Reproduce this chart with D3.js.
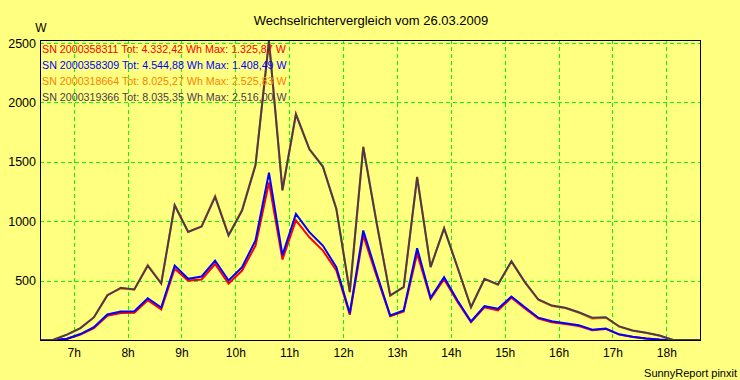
<!DOCTYPE html>
<html>
<head>
<meta charset="utf-8">
<script src="https://cdn.jsdelivr.net/npm/d3@7"></script>
<style>
    body { margin:0; background:#ffff80; }
    svg { display:block; font-family:"Liberation Sans", Arial, sans-serif; }
</style>
</head>
<body>
<div id="chart"></div>
<script>
// data : 15 min values (W)
var times = ['06:22:30','06:37:30','06:52:30','07:07:30','07:22:30','07:37:30','07:52:30','08:07:30','08:22:30','08:37:30',
             '08:52:30','09:07:30','09:22:30','09:37:30','09:52:30','10:07:30','10:22:30','10:37:30','10:52:30','11:07:30',
             '11:22:30','11:37:30','11:52:30','12:07:30','12:22:30','12:37:30','12:52:30','13:07:30','13:22:30','13:37:30',
             '13:52:30','14:07:30','14:22:30','14:37:30','14:52:30','15:07:30','15:22:30','15:37:30','15:52:30','16:07:30',
             '16:22:30','16:37:30','16:52:30','17:07:30','17:22:30','17:37:30','17:52:30','18:07:30','18:22:30','18:37:30'];

var sn311 = [0,0,8,45,100,205,228,230,335,258, 600,500,510,640,475,585,795,1325.87,678,1008,
             865,753,585,212,880,535,200,240,728,345, 512,320,150,275,250,355,265,180,150,135,
             118,82,93,45,25,12,3,0,0,0];
var sn309 = [0,0,10,50,108,215,240,242,352,274, 627,515,535,669,501,613,838,1408.49,715,1062,
             908,795,613,226,922,557,206,248,773,355, 529,333,156,285,263,366,276,188,158,141,
             125,86,97,48,27,12,4,0,0,0];
var sn664 = [0,2,45,100,192,380,432,425,632,478, 1135,912,958,1212,885,1095,1480,2525.83,1262,1905,
             1610,1462,1108,400,1630,985,372,447,1375,615, 942,610,278,512,465,660,485,338,287,268,
             230,180,188,112,78,60,36,0,0,0];
var sn366 = [0,2,45,100,190,375,440,425,625,475, 1135,910,955,1205,880,1090,1470,2516,1260,1900,
             1605,1460,1104,405,1623,980,375,445,1370,613, 940,610,276,515,467,663,487,341,290,271,
             234,187,192,114,80,61,38,0,0,0];

var serials = ['2000358311','2000358309','2000318664','2000319366'];
var totals  = ['4.332,42','4.544,88','8.025,27','8.035,35'];
var maxima  = ['1.325,87','1.408,49','2.525,83','2.516,00'];
var colors  = ['#ff0000','#0000ff','#ff8000','#4a3a50'];

var yTicks = [500,1000,1500,2000,2500];
var hours  = [7,8,9,10,11,12,13,14,15,16,17,18];

(function(){
    var W = 740, H = 380;
    var m = {left:40, right:700, top:40, bottom:340};

    var parse = d3.timeParse('%H:%M:%S');
    var dates = times.map(parse);
    var allSeries = [sn311, sn309, sn664, sn366];
    var font = '"Liberation Sans", Arial, sans-serif';

    var svg = d3.select('#chart').append('svg')
        .attr('width', W).attr('height', H);

    svg.append('rect').attr('width', W).attr('height', H).attr('fill', '#ffff80');

    var x = d3.scaleTime()
        .domain([dates[0], dates[dates.length-1]])
        .range([m.left, m.right]);
    var y = d3.scaleLinear()
        .domain([0, d3.max(allSeries, function(s){ return d3.max(s); })])
        .range([m.bottom, m.top]);

    var hourDate = function(h){ return parse((h<10?'0':'')+h+':00:00'); };

    // grid
    var grid = svg.append('g')
        .attr('stroke', '#00ff00').attr('stroke-width', 1).attr('stroke-dasharray', '4,3');
    grid.selectAll('line.v').data(hours).enter().append('line')
        .attr('x1', function(d){ return Math.round(x(hourDate(d)))+0.5; })
        .attr('x2', function(d){ return Math.round(x(hourDate(d)))+0.5; })
        .attr('y1', m.top).attr('y2', m.bottom);
    grid.selectAll('line.h').data(yTicks).enter().append('line')
        .attr('y1', function(d){ return Math.round(y(d))+0.5; })
        .attr('y2', function(d){ return Math.round(y(d))+0.5; })
        .attr('x1', m.left).attr('x2', m.right);

    // series lines
    var line = d3.line()
        .x(function(d, i){ return x(dates[i]); })
        .y(function(d){ return y(d); });
    svg.append('g').selectAll('path').data(allSeries).enter().append('path')
        .attr('d', line)
        .attr('fill', 'none')
        .attr('stroke', function(d, i){ return colors[i]; })
        .attr('stroke-width', 2)
        .attr('stroke-linejoin', 'miter');

    // frame
    svg.append('rect')
        .attr('x', m.left+0.5).attr('y', m.top+0.5)
        .attr('width', m.right-m.left).attr('height', m.bottom-m.top)
        .attr('fill', 'none').attr('stroke', '#000').attr('stroke-width', 1);

    // axes
    var yAxis = d3.axisLeft(y).tickValues(yTicks).tickSize(0).tickPadding(4).tickFormat(d3.format('d'));
    svg.append('g').attr('transform', 'translate('+m.left+',0)').call(yAxis)
        .call(function(g){ g.select('.domain').remove(); })
        .selectAll('text').attr('font-size', '12.5px').attr('fill', '#000').attr('font-family', font);

    var xAxis = d3.axisBottom(x).tickValues(hours.map(hourDate)).tickSize(0).tickPadding(8)
        .tickFormat(function(d){ return d.getHours()+'h'; });
    svg.append('g').attr('transform', 'translate(0,'+m.bottom+')').call(xAxis)
        .call(function(g){ g.select('.domain').remove(); })
        .selectAll('text').attr('font-size', '12px').attr('fill', '#000').attr('font-family', font);

    // titles
    svg.append('text').attr('x', 371).attr('y', 25).attr('text-anchor', 'middle')
        .attr('font-size', '13px').text('Wechselrichtervergleich vom 26.03.2009');
    svg.append('text').attr('x', 41).attr('y', 31.5).attr('text-anchor', 'middle')
        .attr('font-size', '12px').text('W');
    svg.append('text').attr('x', 737).attr('y', 377).attr('text-anchor', 'end')
        .attr('font-size', '11px').text('SunnyReport pinxit');

    // legend
    svg.append('g').selectAll('text').data(serials).enter().append('text')
        .attr('x', 42)
        .attr('y', function(d, i){ return 53.3 + i*15.9; })
        .attr('font-size', '10.7px')
        .attr('fill', function(d, i){ return colors[i]; })
        .text(function(d, i){ return 'SN '+d+' Tot: '+totals[i]+' Wh Max: '+maxima[i]+' W'; });
}());
</script>
</body>
</html>
